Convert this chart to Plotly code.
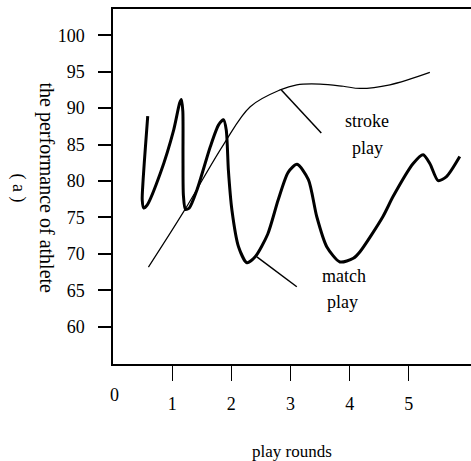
import plotly.graph_objects as go

# Stroke play: smooth rising curve that levels off
rounds_stroke = [0.599, 1.194, 1.868, 2.319, 2.825, 3.106, 3.499, 3.892, 4.174, 4.680, 5.354]
perf_stroke = [68.2, 75.8, 85.0, 90.2, 92.5, 93.2, 93.3, 93.0, 92.7, 93.2, 94.9]

# Match play: oscillating trace (path order, loops back on itself)
rounds_match = [0.587, 0.548, 0.509, 0.494, 0.519, 0.577, 0.801, 1.025, 1.126, 1.155,
                1.180, 1.183, 1.190, 1.225, 1.290, 1.420, 1.644, 1.784, 1.868, 1.914,
                1.950, 2.010, 2.121, 2.263, 2.403, 2.614, 2.791, 2.960, 3.111, 3.302,
                3.444, 3.612, 3.836, 4.061, 4.174, 4.560, 4.735, 5.073, 5.241, 5.354,
                5.494, 5.636, 5.860]
perf_match = [88.9, 84.7, 80.15, 77.4, 76.3, 76.7, 81.1, 87.0, 90.7, 91.2,
              89.6, 83.4, 78.0, 76.1, 76.3, 78.8, 84.7, 87.7, 88.4, 87.0,
              81.5, 76.0, 71.0, 68.8, 69.6, 72.7, 77.4, 81.2, 82.3, 80.2,
              75.1, 71.0, 68.9, 69.4, 70.3, 75.1, 77.9, 82.4, 83.6, 82.4,
              80.05, 80.6, 83.35]

x_ticks = [1, 2, 3, 4, 5]
y_ticks = [60, 65, 70, 75, 80, 85, 90, 95, 100]

# Leader lines from each curve to its label: (x0, y0, x1, y1)
stroke_leader = (2.845, 92.5, 3.52, 86.6)
match_leader = (2.432, 69.6, 3.106, 65.5)

FONT = "Liberation Serif"

fig = go.Figure()
fig.add_trace(go.Scatter(x=rounds_stroke, y=perf_stroke, mode="lines",
                         line=dict(color="black", width=1.2, shape="spline", smoothing=1.0),
                         hoverinfo="skip"))
fig.add_trace(go.Scatter(x=rounds_match, y=perf_match, mode="lines",
                         line=dict(color="black", width=3, shape="spline", smoothing=0.7),
                         hoverinfo="skip"))

for x0, y0, x1, y1 in (stroke_leader, match_leader):
    fig.add_shape(type="line", x0=x0, y0=y0, x1=x1, y1=y1, xref="x", yref="y",
                  line=dict(color="black", width=1.5))

labels = [("stroke", 4.3, 88.2), ("play", 4.3, 84.5), ("match", 3.9, 67.0), ("play", 3.88, 63.4)]
for txt, lx, ly in labels:
    fig.add_annotation(x=lx, y=ly, text=txt, showarrow=False,
                       font=dict(family=FONT, size=18, color="black"))

# "0" at the origin (no tick mark there)
fig.add_annotation(x=0.02, y=0, xref="x", yref="paper", text="0", showarrow=False,
                   yanchor="top", yshift=-19, font=dict(family=FONT, size=18, color="black"))

fig.add_annotation(x=-0.2235, y=0.4958, xref="paper", yref="paper",
                   text="the performance of athlete", textangle=90, showarrow=False,
                   font=dict(family=FONT, size=20, color="black"))
fig.add_annotation(x=-0.299, y=0.4958, xref="paper", yref="paper",
                   text="( a )", textangle=90, showarrow=False,
                   font=dict(family=FONT, size=18, color="black"))

fig.update_layout(
    width=471, height=461,
    margin=dict(l=113, r=0, t=9, b=97),
    paper_bgcolor="white", plot_bgcolor="white",
    showlegend=False,
    font=dict(family=FONT, size=18, color="black"),
    xaxis=dict(range=[0, 6.05], tickvals=x_ticks, ticks="outside", ticklen=15,
               tickwidth=1.2, tickcolor="black", showgrid=False, zeroline=False,
               showline=True, linecolor="black", linewidth=1.5, mirror=True,
               ticklabelstandoff=8, tickfont=dict(family=FONT, size=18),
               title=dict(text="play rounds", font=dict(family=FONT, size=17), standoff=32)),
    yaxis=dict(range=[54.9, 103.6], tickvals=y_ticks, ticks="outside", ticklen=13,
               tickwidth=1.5, tickcolor="black", showgrid=False, zeroline=False,
               showline=True, linecolor="black", linewidth=1.5, mirror=False,
               ticklabelstandoff=10, tickfont=dict(family=FONT, size=18)),
)

fig.write_html("out.html")
